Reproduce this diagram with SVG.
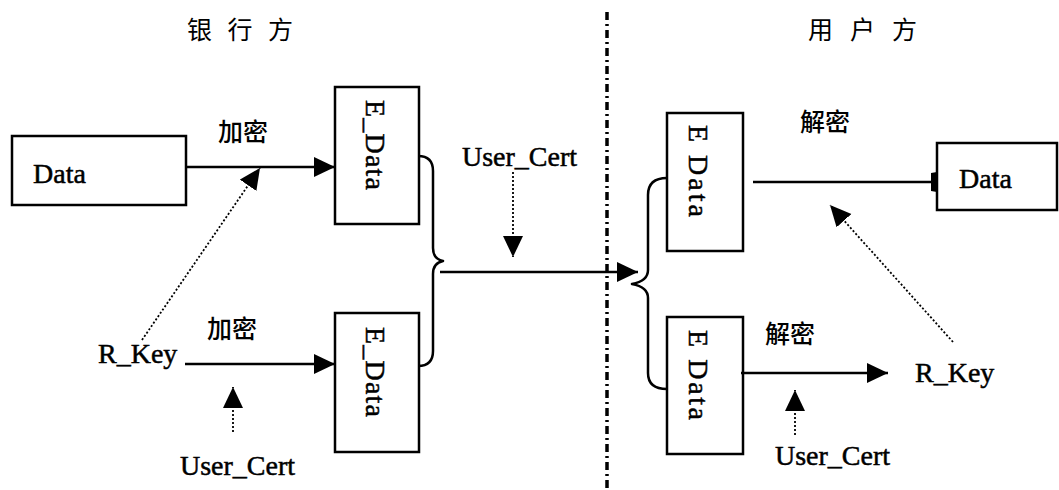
<svg xmlns="http://www.w3.org/2000/svg" width="1059" height="490" viewBox="0 0 1059 490">
<style>
.box{fill:#fff;stroke:#000;stroke-width:2.5}
.lat{font-family:"Liberation Serif","Times New Roman",serif;font-size:28px;fill:#000;stroke:#000;stroke-width:0.5}
.cjk{font-family:"Noto Sans CJK SC","Noto Sans",sans-serif;font-size:25px;fill:#000}
.lbl{font-weight:500}
.solid{fill:none;stroke:#000;stroke-width:2.5}
.dot{fill:none;stroke:#000;stroke-width:1.8;stroke-dasharray:2 2}
.brace{fill:none;stroke:#000;stroke-width:2.5;stroke-linejoin:round}
</style>
<defs>
<marker id="arr" markerUnits="userSpaceOnUse" markerWidth="22" markerHeight="22" refX="21" refY="10" orient="auto">
<path d="M0,0 L21,10 L0,20 Z" fill="#000"/>
</marker>
<marker id="tee" markerUnits="userSpaceOnUse" markerWidth="8" markerHeight="22" refX="6" refY="10" orient="auto">
<path d="M0,1 L6,0 L6,20 L0,19 Z" fill="#000"/>
</marker>
</defs>
<rect width="1059" height="490" fill="#fff"/>

<g id="titles">
<text class="cjk" x="187" y="39" textLength="106" lengthAdjust="spacing">银 行 方</text>
<text class="cjk" x="808" y="39" textLength="109" lengthAdjust="spacing">用 户 方</text>
</g>

<line id="divider" x1="607" y1="12" x2="607" y2="490" stroke="#000" stroke-width="3.5" stroke-dasharray="8 4 2 4"/>

<g id="bank-data">
<rect class="box" x="12" y="136" width="174" height="69"/>
<text class="lat" x="33" y="183">Data</text>
</g>
<g id="bank-edata-1">
<rect class="box" x="335" y="87" width="84" height="137"/>
<text class="lat" transform="translate(366,100) rotate(90)" textLength="90" lengthAdjust="spacing">E_Data</text>
</g>
<g id="bank-edata-2">
<rect class="box" x="335" y="313" width="84" height="139"/>
<text class="lat" transform="translate(366,327) rotate(90)" textLength="90" lengthAdjust="spacing">E_Data</text>
</g>
<g id="bank-rkey"><text class="lat" x="98" y="363">R_Key</text></g>
<g id="bank-cert-bottom"><text class="lat" x="180" y="475">User_Cert</text></g>
<g id="mid-cert"><text class="lat" x="462" y="166">User_Cert</text></g>

<g id="user-edata-1">
<rect class="box" x="667" y="113" width="76" height="138"/>
<text class="lat" transform="translate(689,125) rotate(90)" textLength="92" lengthAdjust="spacing">E Data</text>
</g>
<g id="user-edata-2">
<rect class="box" x="667" y="317" width="76" height="137"/>
<text class="lat" transform="translate(689,330) rotate(90)" textLength="90" lengthAdjust="spacing">E Data</text>
</g>
<g id="user-data">
<rect class="box" x="937" y="143" width="120" height="67"/>
<text class="lat" x="959" y="188">Data</text>
</g>
<g id="user-rkey"><text class="lat" x="915" y="382">R_Key</text></g>
<g id="user-cert"><text class="lat" x="775" y="465">User_Cert</text></g>

<g id="labels">
<text class="cjk lbl" x="218" y="141">加密</text>
<text class="cjk lbl" x="207" y="338">加密</text>
<text class="cjk lbl" x="800" y="131">解密</text>
<text class="cjk lbl" x="765" y="343">解密</text>
</g>

<g id="connectors">
<line class="solid" x1="186" y1="167" x2="335" y2="167" marker-end="url(#arr)"/>
<line class="solid" x1="185" y1="364" x2="335" y2="364" marker-end="url(#arr)"/>
<line class="dot" x1="142" y1="340" x2="260" y2="168" marker-end="url(#arr)"/>
<line class="dot" x1="233" y1="432" x2="233" y2="387" marker-end="url(#arr)"/>
<line class="dot" x1="513" y1="172" x2="513" y2="257" marker-end="url(#arr)"/>
<path class="brace" d="M418,156 Q433,156 433,171 L433,248 Q433,259 443,261 Q433,263 433,274 L433,351 Q433,366 418,366"/>
<line class="solid" x1="440" y1="272" x2="638" y2="272" marker-end="url(#arr)"/>
<path class="brace" d="M667,178 Q648,178 648,195 L648,270 Q648,281 632,284 Q648,287 648,298 L648,373 Q648,389 667,389"/>
<line class="solid" x1="753" y1="182" x2="937" y2="182" marker-end="url(#tee)"/>
<line class="dot" x1="953" y1="342" x2="830" y2="205" marker-end="url(#arr)"/>
<line class="solid" x1="741" y1="373" x2="888" y2="373" marker-end="url(#arr)"/>
<line class="dot" x1="795" y1="435" x2="795" y2="390" marker-end="url(#arr)"/>
</g>
</svg>
